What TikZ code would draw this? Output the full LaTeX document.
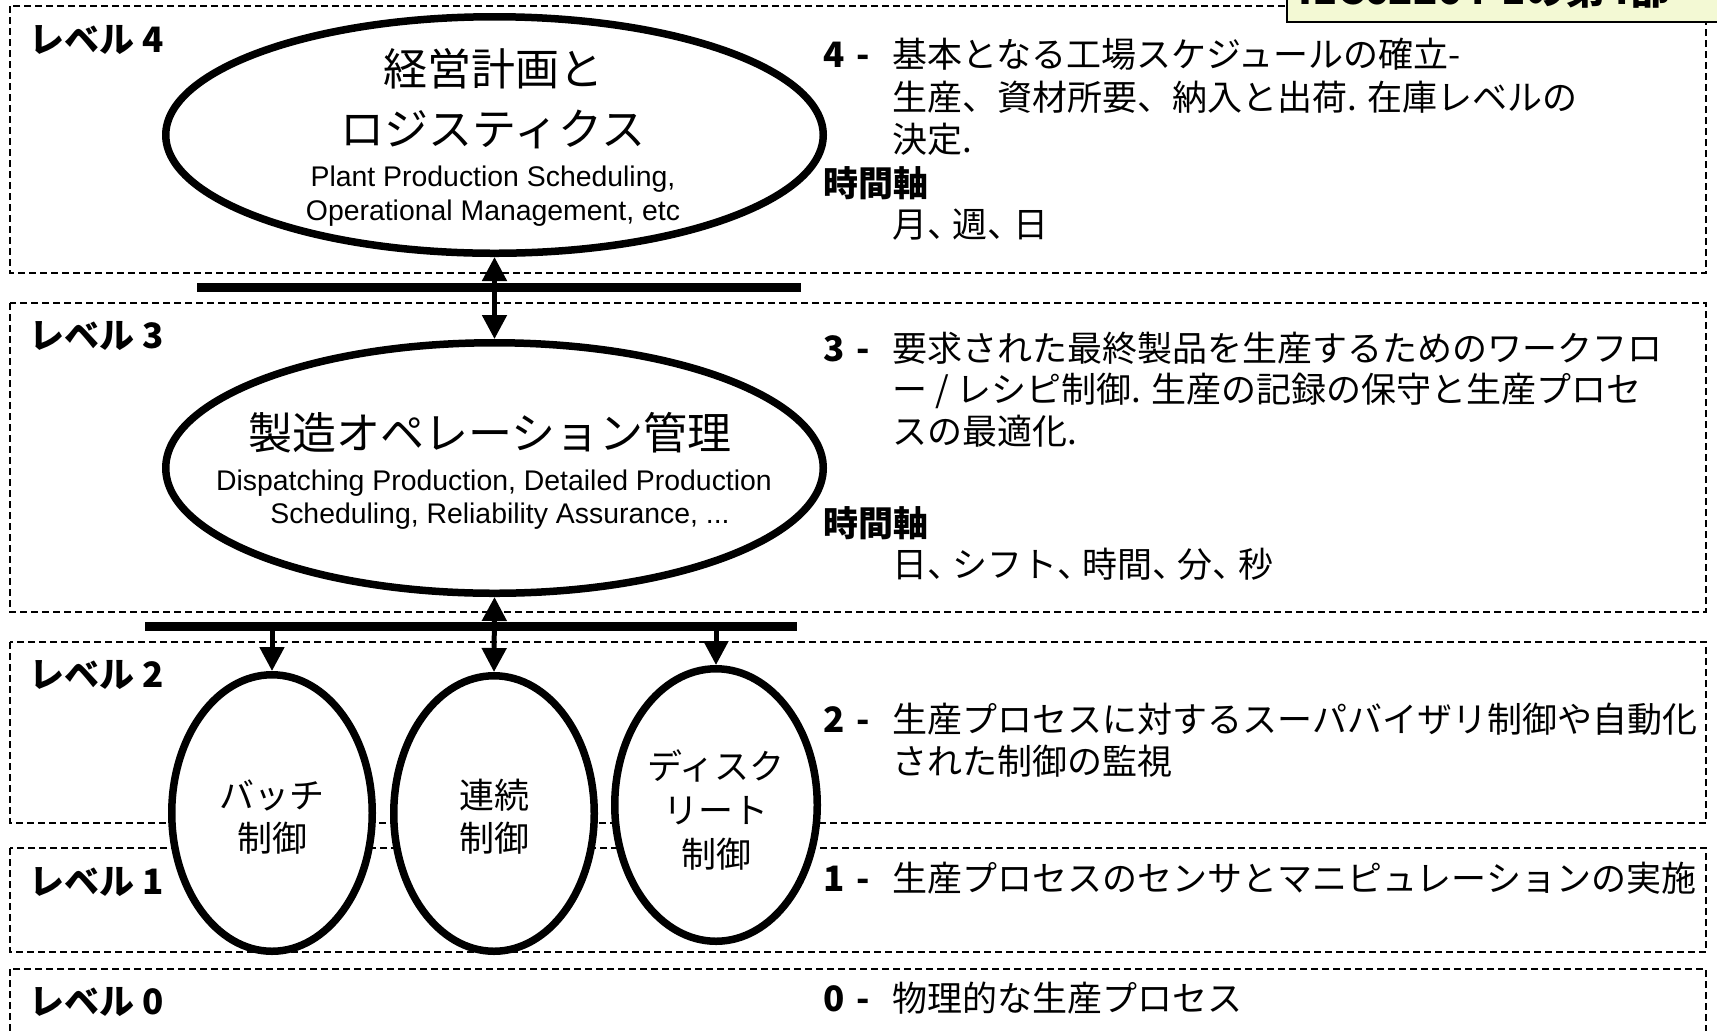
\documentclass[tikz,border=0pt]{standalone}
\usepackage{fontspec}
\setmainfont{Noto Sans CJK JP}
\newfontfamily\latinfont{Liberation Sans}
\usetikzlibrary{shapes.geometric,arrows.meta}
\definecolor{tabfill}{HTML}{F3F9D4}
\newcommand{\nc}{、\kern-4.8pt}
\begin{document}
\begin{tikzpicture}[x=0.5pt,y=-0.5pt,
  lvlbox/.style={draw=black, line width=0.8pt, dash pattern=on 3.5pt off 2pt},
  ell/.style={ellipse, draw=black, fill=white, line width=3.75pt, inner sep=0pt},
  busbar/.style={line width=4.5pt},
  arr/.style={line width=2.5pt, -{Triangle[length=12pt,width=12pt]}},
  darr/.style={line width=2.5pt, {Triangle[length=12pt,width=12pt]}-{Triangle[length=12pt,width=12pt]}},
  jt/.style={inner sep=0pt, anchor=base west, font=\fontsize{17.5pt}{21pt}\selectfont},
  jb/.style={inner sep=0pt, anchor=base west, font=\fontsize{17.5pt}{21pt}\selectfont\bfseries},
  jc/.style={inner sep=0pt, anchor=base, font=\fontsize{17.5pt}{21pt}\selectfont},
  big/.style={inner sep=0pt, anchor=base, font=\fontsize{22pt}{26pt}\selectfont},
  lat/.style={inner sep=0pt, anchor=base, font=\latinfont\fontsize{14.2pt}{17pt}\selectfont},
  ttltxt/.style={inner sep=0pt, anchor=base west, font=\fontsize{20pt}{24pt}\selectfont\bfseries}
]
\useasboundingbox (0,0) rectangle (1717,1030);
\clip (0,0) rectangle (1717,1030);
\fill[white] (0,0) rectangle (1717,1030);

% level boxes
\draw[lvlbox] (10,6) rectangle (1706,273);
\draw[lvlbox] (10,303) rectangle (1706,612);
\draw[lvlbox] (10,642) rectangle (1706,823);
\draw[lvlbox] (10,848) rectangle (1706,952);
\draw[lvlbox] (10,969) rectangle (1706,1060);

% title tab
\draw[fill=tabfill, line width=1.25pt] (1287,-80) rectangle (1760,22);
\node[ttltxt] (ttl) at (1298,4) {IEC62264-1の第4部};

% bars
\draw[busbar] (197,287) -- (801,287);
\draw[busbar] (145,626) -- (797,626);
\coordinate (b2a) at (272,626);
\coordinate (b2c) at (716,626);

% ellipses
\node[ell, minimum width=328.75pt, minimum height=118.25pt] (e4) at (494.5,135) {};
\node[ell, minimum width=328.75pt, minimum height=125.25pt] (e3) at (494.5,468) {};
\node[ell, minimum width=100.25pt, minimum height=138.25pt] (batch) at (272,813) {};
\node[ell, minimum width=100.25pt, minimum height=137.75pt] (cont) at (494,813.5) {};
\node[ell, minimum width=101.25pt, minimum height=136.25pt] (disc) at (716,805) {};

% connectors
\draw[darr] (e4.south) -- (e3.north);
\draw[darr] (e3.south) -- (cont.north);
\draw[arr] (b2a) -- (batch.north);
\draw[arr] (b2c) -- (disc.north);

% ellipse texts
\node[big] (e4a) at (493,85) {経営計画と};
\node[big] (e4b) at (493,145) {ロジスティクス};
\node[lat] (e4c) at (493,186) {Plant Production Scheduling,};
\node[lat] (e4d) at (493,220) {Operational Management, etc};
\node[big] (e3a) at (490,449) {製造オペレーション管理};
\node[lat] (e3b) at (494,490) {Dispatching Production, Detailed Production};
\node[lat] (e3c) at (500,523) {Scheduling, Reliability Assurance, ...};
\node[jc] (ba) at (272,808) {バッチ};
\node[jc] (bb) at (272,851) {制御};
\node[jc] (ca) at (494,808) {連続};
\node[jc] (cb) at (494,851) {制御};
\node[jc] (da) at (716,779) {ディスク};
\node[jc] (db) at (716,823) {リート};
\node[jc] (dc) at (716,867) {制御};

% level labels
\node[jb] (l4) at (29,52) {レベル 4};
\node[jb] (l3) at (29,348) {レベル 3};
\node[jb] (l2) at (29,687) {レベル 2};
\node[jb] (l1) at (29,894) {レベル 1};
\node[jb] (l0) at (29,1014) {レベル 0};

% level 4 description
\node[jb] (n4) at (823,67) {4\hspace{6pt}-};
\node[jt] (t4a) at (892,67) {基本となる工場スケジュールの確立-};
\node[jt] (t4b) at (892,110) {生産、資材所要、納入と出荷. 在庫レベルの};
\node[jt] (t4c) at (892,152) {決定.};
\node[jb] (h4) at (823,196) {時間軸};
\node[jt] (t4d) at (892,237) {月\nc 週\nc 日};

% level 3 description
\node[jb] (n3) at (823,361) {3\hspace{6pt}-};
\node[jt] (t3a) at (892,361) {要求された最終製品を生産するためのワークフロ};
\node[jt] (t3b) at (892,402) {ー / レシピ制御. 生産の記録の保守と生産プロセ};
\node[jt] (t3c) at (892,444) {スの最適化.};
\node[jb] (h3) at (823,536) {時間軸};
\node[jt] (t3d) at (892,577) {日\nc シフト\nc 時間\nc 分\nc 秒};

% level 2
\node[jb] (n2) at (823,732) {2\hspace{6pt}-};
\node[jt] (t2a) at (892,732) {生産プロセスに対するスーパバイザリ制御や自動化};
\node[jt] (t2b) at (892,774) {された制御の監視};

% level 1
\node[jb] (n1) at (823,891) {1\hspace{6pt}-};
\node[jt] (t1a) at (892,891) {生産プロセスのセンサとマニピュレーションの実施};

% level 0
\node[jb] (n0) at (823,1011) {0\hspace{6pt}-};
\node[jt] (t0a) at (892,1011) {物理的な生産プロセス};
\end{tikzpicture}
\end{document}
